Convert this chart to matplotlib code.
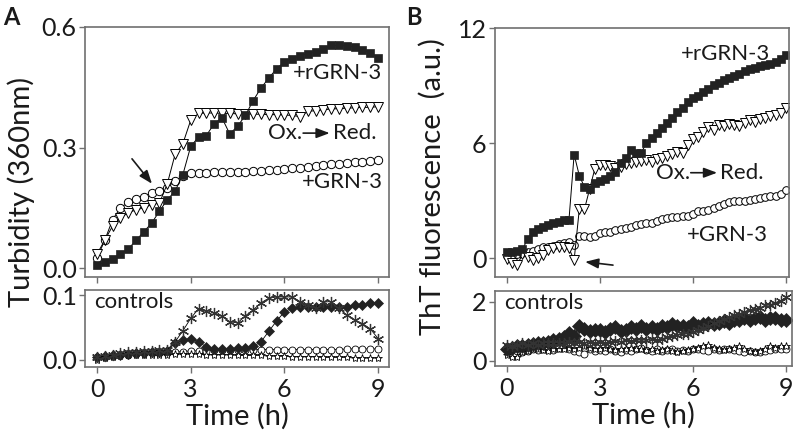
import numpy as np
from matplotlib import pyplot as pl

###############################################################################
# panel A : turbidity, one point every 15 min
tA = np.arange(37) * 0.25

turb_rgrn = [0.008, 0.015, 0.023, 0.034, 0.048, 0.069, 0.091, 0.112, 0.142, 0.170,
             0.192, 0.233, 0.303, 0.326, 0.330, 0.359, 0.374, 0.334, 0.353, 0.380,
             0.417, 0.448, 0.473, 0.496, 0.513, 0.521, 0.528, 0.534, 0.539, 0.546,
             0.554, 0.554, 0.553, 0.550, 0.544, 0.536, 0.524]
turb_oxred = [0.035, 0.070, 0.105, 0.125, 0.138, 0.145, 0.150, 0.158, 0.162, 0.210,
              0.283, 0.310, 0.368, 0.385, 0.386, 0.386, 0.385, 0.385, 0.384, 0.384,
              0.383, 0.383, 0.382, 0.382, 0.381, 0.380, 0.377, 0.390, 0.392, 0.394,
              0.396, 0.397, 0.398, 0.399, 0.400, 0.400, 0.402]
turb_grn = [0.025, 0.070, 0.121, 0.150, 0.164, 0.171, 0.177, 0.187, 0.191, 0.200,
            0.218, 0.229, 0.236, 0.236, 0.237, 0.238, 0.240, 0.238, 0.238, 0.240,
            0.241, 0.242, 0.243, 0.244, 0.246, 0.248, 0.250, 0.252, 0.254, 0.256,
            0.258, 0.260, 0.262, 0.264, 0.265, 0.266, 0.270]

# controls
turb_c_ast = [0.004, 0.006, 0.008, 0.010, 0.012, 0.013, 0.014, 0.014, 0.015, 0.016,
              0.028, 0.045, 0.064, 0.079, 0.076, 0.073, 0.067, 0.059, 0.057, 0.068,
              0.077, 0.088, 0.095, 0.097, 0.097, 0.097, 0.090, 0.085, 0.080, 0.089,
              0.090, 0.080, 0.069, 0.062, 0.056, 0.048, 0.033]
turb_c_dia = [0.005, 0.006, 0.007, 0.008, 0.009, 0.010, 0.011, 0.012, 0.012, 0.014,
              0.026, 0.031, 0.033, 0.028, 0.020, 0.017, 0.017, 0.017, 0.018, 0.019,
              0.021, 0.028, 0.044, 0.060, 0.074, 0.080, 0.082, 0.082, 0.082, 0.082,
              0.082, 0.082, 0.082, 0.084, 0.085, 0.087, 0.088]
turb_c_cir = [0.004, 0.005, 0.006, 0.007, 0.008, 0.009, 0.010, 0.010, 0.011, 0.011,
              0.012, 0.013, 0.014, 0.014, 0.014, 0.015, 0.015, 0.015, 0.015, 0.015,
              0.016, 0.016, 0.016, 0.016, 0.016, 0.016, 0.016, 0.016, 0.016, 0.016,
              0.016, 0.016, 0.017, 0.017, 0.017, 0.017, 0.017]
turb_c_sta = [0.000, 0.003, 0.005, 0.006, 0.007, 0.007, 0.008, 0.008, 0.008, 0.008,
              0.009, 0.009, 0.009, 0.009, 0.008, 0.008, 0.008, 0.008, 0.007, 0.007,
              0.007, 0.007, 0.006, 0.006, 0.006, 0.005, 0.005, 0.005, 0.005, 0.004,
              0.004, 0.004, 0.004, 0.003, 0.003, 0.003, 0.003]

###############################################################################
# panel B : ThT fluorescence, one point every 10 min
tB = np.arange(55) / 6.0

tht_rgrn = [0.30, 0.32, 0.35, 0.45, 1.00, 1.35, 1.50, 1.60, 1.72, 1.82,
            1.90, 2.00, 2.00, 5.40, 4.30, 3.70, 3.62, 3.90, 4.00, 4.10,
            4.30, 4.50, 4.95, 5.20, 5.65, 5.50, 5.50, 6.00, 6.25, 6.50,
            6.80, 7.05, 7.30, 7.60, 7.85, 8.15, 8.35, 8.45, 8.65, 8.80,
            9.05, 9.15, 9.30, 9.40, 9.50, 9.60, 9.75, 9.85, 9.90, 10.00,
            10.05, 10.10, 10.25, 10.40, 10.60]
tht_oxred = [-0.05, -0.25, -0.35, 0.20, 0.05, -0.10, 0.00, 0.15, 0.40, 0.50,
             0.60, 0.60, 0.50, -0.10, 2.55, 2.55, 3.60, 4.65, 4.85, 4.85,
             4.80, 4.70, 4.75, 4.90, 4.95, 5.00, 5.05, 5.10, 5.00, 5.15,
             5.20, 5.30, 5.45, 5.55, 5.50, 5.90, 6.20, 6.30, 6.55, 6.85,
             6.70, 6.95, 6.90, 7.00, 6.95, 6.90, 7.05, 7.20, 7.10, 7.25,
             7.30, 7.40, 7.45, 7.55, 7.85]
tht_grn = [0.10, 0.10, 0.20, 0.25, 0.30, 0.35, 0.45, 0.55, 0.60, 0.65,
           0.75, 0.80, 0.85, 0.68, 1.15, 1.15, 1.10, 1.15, 1.30, 1.35,
           1.35, 1.45, 1.50, 1.55, 1.62, 1.70, 1.78, 1.82, 1.85, 1.95,
           2.05, 2.10, 2.15, 2.15, 2.20, 2.20, 2.30, 2.45, 2.45, 2.50,
           2.60, 2.70, 2.80, 2.90, 2.95, 3.00, 3.00, 3.05, 3.10, 3.15,
           3.20, 3.25, 3.25, 3.35, 3.55]

# controls
tht_c_ast = [0.55, 0.50, 0.55, 0.60, 0.55, 0.60, 0.55, 0.60, 0.60, 0.60,
             0.62, 0.60, 0.65, 0.62, 0.65, 0.60, 0.65, 0.62, 0.65, 0.60,
             0.65, 0.68, 0.65, 0.70, 0.68, 0.70, 0.72, 0.70, 0.75, 0.72,
             0.75, 0.80, 0.85, 0.88, 0.90, 0.93, 0.98, 1.05, 1.12, 1.20,
             1.30, 1.35, 1.42, 1.50, 1.55, 1.60, 1.65, 1.72, 1.75, 1.80,
             1.88, 1.90, 1.98, 2.02, 2.15]
tht_c_dia = [0.42, 0.45, 0.50, 0.52, 0.55, 0.57, 0.60, 0.62, 0.65, 0.70,
             0.75, 0.80, 0.95, 0.85, 1.20, 1.10, 1.00, 1.05, 1.05, 0.98,
             1.10, 1.15, 1.00, 1.05, 1.15, 1.10, 1.20, 1.10, 1.15, 1.10,
             1.20, 1.15, 1.25, 1.20, 1.20, 1.15, 1.30, 1.20, 1.25, 1.30,
             1.25, 1.30, 1.35, 1.30, 1.40, 1.40, 1.45, 1.40, 1.45, 1.50,
             1.40, 1.45, 1.45, 1.40, 1.38]
tht_c_cir = [0.45, 0.40, 0.35, 0.30, 0.35, 0.40, 0.38, 0.42, 0.40, 0.38,
             0.45, 0.60, 0.40, 0.35, 0.30, 0.25, 0.40, 0.35, 0.38, 0.35,
             0.40, 0.35, 0.30, 0.38, 0.35, 0.40, 0.45, 0.38, 0.35, 0.40,
             0.35, 0.38, 0.40, 0.35, 0.38, 0.35, 0.40, 0.42, 0.38, 0.35,
             0.40, 0.38, 0.42, 0.40, 0.38, 0.35, 0.30, 0.35, 0.32, 0.30,
             0.35, 0.38, 0.40, 0.42, 0.42]
tht_c_sta = [0.20, 0.15, 0.15, 0.30, 0.35, 0.40, 0.40, 0.38, 0.35, 0.40,
             0.42, 0.40, 0.45, 0.40, 0.45, 0.50, 0.45, 0.40, 0.42, 0.45,
             0.40, 0.38, 0.42, 0.40, 0.45, 0.42, 0.40, 0.38, 0.40, 0.35,
             0.38, 0.40, 0.35, 0.30, 0.35, 0.38, 0.40, 0.45, 0.50, 0.55,
             0.45, 0.40, 0.38, 0.42, 0.45, 0.50, 0.40, 0.35, 0.30, 0.35,
             0.40, 0.50, 0.45, 0.50, 0.50]

###############################################################################
pl.rcParams['font.family'] = ['Lato', 'DejaVu Sans']
txtcol = '#1a1a1a'
spcol = '#707070'
asterisk = (6, 2, 0)

fig = pl.figure(figsize=(8, 4.32), dpi=100)


def style_ax(ax, xlim, ylim, yticks, show_x):
    ax.set_xlim(xlim)
    ax.set_ylim(ylim)
    ax.set_yticks(yticks)
    ax.set_xticks([0, 3, 6, 9])
    for s in ax.spines.values():
        s.set_color(spcol)
        s.set_linewidth(1.2)
    ax.tick_params(axis='both', direction='out', length=4, width=1, color=spcol,
                   labelsize=18, labelcolor=txtcol, pad=2)
    ax.tick_params(axis='x', pad=4)
    if not show_x:
        ax.tick_params(axis='x', labelbottom=False)


def main_series(ax, t, sq, tri, cir, ms):
    ax.plot(t, cir, color='k', lw=0.7, marker='o', ms=ms, mfc='white', mec='k', mew=0.7)
    ax.plot(t, tri, color='k', lw=0.7, marker='v', ms=ms + 1, mfc='white', mec='k', mew=0.7)
    ax.plot(t, sq, color='k', lw=0.7, marker='s', ms=ms, mfc='#222222', mec='#222222', mew=0.5)


def control_series(ax, t, ast, dia, cir, sta, ms, dms):
    ax.plot(t, cir, color='k', lw=0.6, marker='o', ms=ms, mfc='white', mec='k', mew=0.6)
    ax.plot(t, sta, color='k', lw=0.6, marker='*', ms=ms + 1, mfc='white', mec='k', mew=0.6)
    ax.plot(t, dia, color='k', lw=0.6, marker='D', ms=dms, mfc='#222222', mec='#222222', mew=0.5)
    ax.plot(t, ast, color='k', lw=0.6, marker=asterisk, ms=ms + 3, mec='#333333', mew=0.9)


def ox_red(ax, x_ox, x_a0, x_a1, x_red, y):
    ax.text(x_ox, y, 'Ox.', ha='right', va='center', fontsize=16, color=txtcol)
    ax.annotate('', xy=(x_a1, y), xytext=(x_a0, y),
                arrowprops=dict(arrowstyle='-|>,head_length=0.8,head_width=0.3',
                                color=txtcol, lw=1.2, shrinkA=0, shrinkB=0))
    ax.text(x_red, y, 'Red.', ha='left', va='center', fontsize=16, color=txtcol)


# ---------------- panel A
axA1 = fig.add_axes([85 / 800, 1 - 277 / 432, 304 / 800, 250 / 432])
axA2 = fig.add_axes([85 / 800, 1 - 367 / 432, 304 / 800, 77 / 432])

main_series(axA1, tA, turb_rgrn, turb_oxred, turb_grn, 6)
style_ax(axA1, (-0.385, 9.35), (-0.022, 0.6), [0.0, 0.3, 0.6], False)
axA1.set_yticklabels(['0.0', '0.3', '0.6'])
axA1.text(9.14, 0.486, '+rGRN-3', ha='right', va='center', fontsize=16, color=txtcol)
ox_red(axA1, 6.58, 6.6, 7.45, 7.55, 0.336)
axA1.text(9.14, 0.214, '+GRN-3', ha='right', va='center', fontsize=16, color=txtcol)
axA1.annotate('', xy=(1.76, 0.21), xytext=(1.12, 0.272),
              arrowprops=dict(arrowstyle='-|>,head_length=0.8,head_width=0.3',
                              color=txtcol, lw=1.2, shrinkA=0, shrinkB=0))

control_series(axA2, tA, turb_c_ast, turb_c_dia, turb_c_cir, turb_c_sta, 5, 5.5)
style_ax(axA2, (-0.385, 9.35), (-0.0108, 0.1077), [0.0, 0.1], True)
axA2.set_yticklabels(['0.0', '0.1'])
axA2.text(0.03, 0.84, 'controls', transform=axA2.transAxes, ha='left', va='center',
          fontsize=16, color=txtcol)
axA2.set_xlabel('Time (h)', fontsize=21, color=txtcol, labelpad=1)

fig.text(0.026, 1 - 192 / 432, 'Turbidity (360nm)', rotation=90, ha='center', va='center',
         fontsize=21, color=txtcol)
fig.text(0.004, 0.985, 'A', ha='left', va='top', fontsize=17, fontweight='bold', color=txtcol)

# ---------------- panel B
axB1 = fig.add_axes([495 / 800, 1 - 277 / 432, 294 / 800, 249 / 432])
axB2 = fig.add_axes([495 / 800, 1 - 366 / 432, 297 / 800, 75 / 432])

main_series(axB1, tB, tht_rgrn, tht_oxred, tht_grn, 5.5)
style_ax(axB1, (-0.387, 9.1), (-0.99, 12), [0, 6, 12], False)
axB1.text(8.48, 10.64, '+rGRN-3', ha='right', va='center', fontsize=16, color=txtcol)
ox_red(axB1, 5.9, 5.93, 6.78, 6.87, 4.45)
axB1.text(8.42, 1.2, '+GRN-3', ha='right', va='center', fontsize=16, color=txtcol)
axB1.annotate('', xy=(2.52, -0.2), xytext=(3.42, -0.37),
              arrowprops=dict(arrowstyle='-|>,head_length=0.8,head_width=0.3',
                              color=txtcol, lw=1.2, shrinkA=0, shrinkB=0))

control_series(axB2, tB, tht_c_ast, tht_c_dia, tht_c_cir, tht_c_sta, 5, 7)
style_ax(axB2, (-0.387, 9.2), (-0.17, 2.37), [0, 2], True)
axB2.text(0.03, 0.84, 'controls', transform=axB2.transAxes, ha='left', va='center',
          fontsize=16, color=txtcol)
axB2.set_xlabel('Time (h)', fontsize=21, color=txtcol, labelpad=1)

fig.text(0.54, 1 - 187 / 432, 'ThT fluorescence  (a.u.)', rotation=90, ha='center',
         va='center', fontsize=21, color=txtcol)
fig.text(0.508, 0.985, 'B', ha='left', va='top', fontsize=17, fontweight='bold', color=txtcol)

pl.savefig('out.png', dpi=100)
